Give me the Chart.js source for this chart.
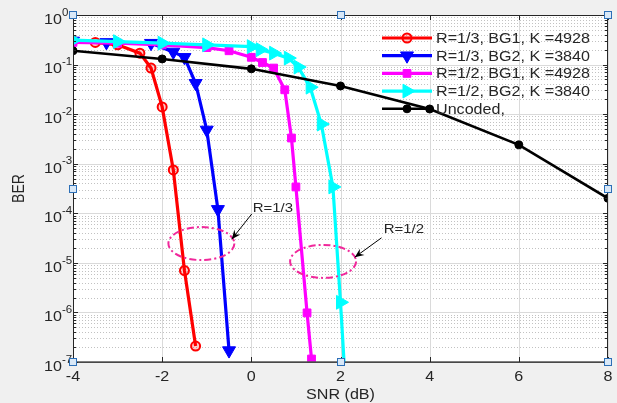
<!DOCTYPE html>
<html>
<head>
<meta charset="utf-8">
<script src="https://cdn.jsdelivr.net/npm/chart.js@4.4.0/dist/chart.umd.min.js"></script>
<style>
  html, body { margin: 0; padding: 0; background: #f0f0f0; }
  #wrap { width: 617px; height: 403px; }
</style>
</head>
<body>
<div id="wrap"><canvas id="berChart" width="617" height="403"></canvas></div>
<script>
// --- data ---
const snrR13BG1 = [-4, -3.5, -3, -2.5, -2.25, -2, -1.75, -1.5, -1.25];
const berR13BG1 = [0.30, 0.28, 0.25, 0.17, 0.085, 0.014, 7.5e-4, 7e-6, 2.1e-7];

const snrR13BG2 = [-4, -3.25, -2.25, -1.75, -1.5, -1.25, -1.0, -0.75, -0.5];
const berR13BG2 = [0.30, 0.28, 0.27, 0.18, 0.14, 0.042, 4.8e-3, 1.2e-4, 1.7e-7];

const snrR12BG1 = [-4, -3, -2, -1, -0.5, 0, 0.25, 0.5, 0.75, 0.9, 1.0, 1.25, 1.35];
const berR12BG1 = [0.28, 0.27, 0.25, 0.22, 0.19, 0.14, 0.11, 0.085, 0.031, 3.3e-3, 3.4e-4, 9.8e-7, 1.15e-7];

const snrR12BG2 = [-4, -3, -2, -1, 0, 0.2, 0.5, 0.83, 1.05, 1.32, 1.57, 1.83, 2.0, 2.1];
const berR12BG2 = [0.31, 0.29, 0.27, 0.25, 0.23, 0.20, 0.17, 0.135, 0.089, 0.035, 6.3e-3, 3.4e-4, 1.6e-6, 5e-8];

const snrUncoded = [-4, -2, 0, 2, 4, 6, 8];
const berUncoded = [0.19, 0.13, 0.082, 0.037, 0.0127, 2.4e-3, 2.0e-4];

const seriesNames = [
  'R=1/3, BG1, K =4928',
  'R=1/3, BG2, K =3840',
  'R=1/2, BG1, K =4928',
  'R=1/2, BG2, K =3840',
  'Uncoded,'
];
const xTicks = [-4, -2, 0, 2, 4, 6, 8];
const yTickExps = [0, -1, -2, -3, -4, -5, -6, -7];
const annotLabels = ['R=1/3', 'R=1/2'];

// --- styles ---
const textColor = '#262626';
const fontFam = '"Liberation Sans", Arial, sans-serif';
const stretch = 1.15; // the figure text is a bit wide

const seriesStyle = [
  { color: '#ff0000', pointStyle: 'circle', rotation: 0, radius: 4.5, fill: 'rgba(255,0,0,0.2)', width: 3.2 },
  { color: '#0000ff', pointStyle: 'triangle', rotation: 180, radius: 7.5, fill: '#0000ff', width: 3.2 },
  { color: '#ff00ff', pointStyle: 'rect', rotation: 0, radius: 5.5, fill: '#ff00ff', width: 3.2 },
  { color: '#00ffff', pointStyle: 'triangle', rotation: 90, radius: 8, fill: '#00ffff', width: 3.2 },
  { color: '#000000', pointStyle: 'circle', rotation: 0, radius: 4, fill: '#000000', width: 2.6 }
];

const seriesX = [snrR13BG1, snrR13BG2, snrR12BG1, snrR12BG2, snrUncoded];
const seriesY = [berR13BG1, berR13BG2, berR12BG1, berR12BG2, berUncoded];

const datasets = seriesNames.map(function(name, i) {
  const st = seriesStyle[i];
  return {
    label: name,
    data: seriesX[i].map(function(x, j) { return { x: x, y: seriesY[i][j] }; }),
    borderColor: st.color,
    backgroundColor: st.fill,
    borderWidth: st.width,
    pointStyle: st.pointStyle,
    rotation: st.rotation,
    pointRadius: st.radius,
    pointBorderColor: st.color,
    pointBackgroundColor: st.fill,
    pointBorderWidth: i === 0 ? 2 : 1,
    tension: 0,
    order: 5 - i
  };
});

function stretchedText(ctx, str, x, y, align, font) {
  ctx.save();
  ctx.translate(x, y);
  ctx.scale(stretch, 1);
  ctx.font = font;
  ctx.textAlign = align;
  ctx.textBaseline = 'middle';
  ctx.fillText(str, 0, 0);
  ctx.restore();
}

const berPlot = {
  id: 'berPlot',
  beforeDraw(chart) {
    const ctx = chart.ctx, a = chart.chartArea;
    const xs = chart.scales.x, ys = chart.scales.y;
    ctx.save();
    ctx.fillStyle = '#f0f0f0';
    ctx.fillRect(0, 0, chart.width, chart.height);
    ctx.fillStyle = '#ffffff';
    ctx.fillRect(a.left, a.top, a.right - a.left, a.bottom - a.top);

    // minor log grid (dotted)
    ctx.lineWidth = 1;
    ctx.strokeStyle = '#c2c2c2';
    ctx.setLineDash([1, 2]);
    yTickExps.forEach(function(e) {
      if (e === 0) return;
      for (let m = 2; m <= 9; m++) {
        const py = Math.round(ys.getPixelForValue(m * Math.pow(10, e))) + 0.5;
        ctx.beginPath(); ctx.moveTo(a.left, py); ctx.lineTo(a.right, py); ctx.stroke();
      }
    });
    // major grid
    ctx.setLineDash([]);
    ctx.strokeStyle = '#dadada';
    yTickExps.forEach(function(e) {
      const py = Math.round(ys.getPixelForValue(Math.pow(10, e))) + 0.5;
      ctx.beginPath(); ctx.moveTo(a.left, py); ctx.lineTo(a.right, py); ctx.stroke();
    });
    xTicks.forEach(function(v) {
      const px = Math.round(xs.getPixelForValue(v)) + 0.5;
      ctx.beginPath(); ctx.moveTo(px, a.top); ctx.lineTo(px, a.bottom); ctx.stroke();
    });
    ctx.restore();
  },
  afterDatasetsDraw(chart) {
    const ctx = chart.ctx, a = chart.chartArea;
    const xs = chart.scales.x, ys = chart.scales.y;
    const px = function(v) { return xs.getPixelForValue(v); };
    const py = function(v) { return ys.getPixelForValue(v); };
    ctx.save();

    // annotations: dashed ellipses, arrows, labels
    const ellipses = [{ x: -1.12, y: 2.45e-5 }, { x: 1.61, y: 1.07e-5 }];
    ctx.strokeStyle = '#f0289b';
    ctx.lineWidth = 2;
    ctx.setLineDash([7, 3, 2, 3]);
    ellipses.forEach(function(el) {
      ctx.beginPath();
      ctx.ellipse(px(el.x), py(el.y), 33, 16.5, 0, 0, Math.PI * 2);
      ctx.stroke();
    });
    ctx.setLineDash([]);

    const arrows = [
      { x1: 0.01, y1: 9.7e-5, x2: -0.44, y2: 3.0e-5 },
      { x1: 2.92, y1: 3.2e-5, x2: 2.32, y2: 1.3e-5 }
    ];
    ctx.strokeStyle = '#000';
    ctx.fillStyle = '#000';
    ctx.lineWidth = 1;
    arrows.forEach(function(ar) {
      const sx = px(ar.x1), sy = py(ar.y1), ex = px(ar.x2), ey = py(ar.y2);
      const ang = Math.atan2(ey - sy, ex - sx);
      ctx.beginPath(); ctx.moveTo(sx, sy); ctx.lineTo(ex, ey); ctx.stroke();
      ctx.beginPath();
      ctx.moveTo(ex, ey);
      ctx.lineTo(ex - 10 * Math.cos(ang - 0.4), ey - 10 * Math.sin(ang - 0.4));
      ctx.lineTo(ex - 6 * Math.cos(ang), ey - 6 * Math.sin(ang));
      ctx.lineTo(ex - 10 * Math.cos(ang + 0.4), ey - 10 * Math.sin(ang + 0.4));
      ctx.closePath();
      ctx.fill();
    });
    ctx.fillStyle = textColor;
    stretchedText(ctx, annotLabels[0], px(0.03), py(1.28e-4), 'left', '13px ' + fontFam);
    stretchedText(ctx, annotLabels[1], px(2.97), py(4.8e-5), 'left', '13px ' + fontFam);

    // axes box
    ctx.strokeStyle = textColor;
    ctx.lineWidth = 1;
    ctx.strokeRect(Math.round(a.left) + 0.5, Math.round(a.top) + 0.5,
      Math.round(a.right - a.left) - 1, Math.round(a.bottom - a.top));
    ctx.lineWidth = 1.5;
    ctx.strokeStyle = '#555';
    ctx.beginPath(); ctx.moveTo(a.left, a.bottom); ctx.lineTo(a.right, a.bottom); ctx.stroke();
    ctx.lineWidth = 1;
    ctx.strokeStyle = textColor;

    // inward tick marks
    xTicks.forEach(function(v) {
      const x = Math.round(px(v)) + 0.5;
      ctx.beginPath();
      ctx.moveTo(x, a.bottom); ctx.lineTo(x, a.bottom - 5);
      ctx.moveTo(x, a.top); ctx.lineTo(x, a.top + 5);
      ctx.stroke();
    });
    yTickExps.forEach(function(e) {
      const y = Math.round(py(Math.pow(10, e))) + 0.5;
      ctx.beginPath();
      ctx.moveTo(a.left, y); ctx.lineTo(a.left + 5, y);
      ctx.moveTo(a.right, y); ctx.lineTo(a.right - 5, y);
      ctx.stroke();
      if (e === 0) return;
      for (let m = 2; m <= 9; m++) {
        const ym = Math.round(py(m * Math.pow(10, e))) + 0.5;
        ctx.beginPath();
        ctx.moveTo(a.left, ym); ctx.lineTo(a.left + 3, ym);
        ctx.moveTo(a.right, ym); ctx.lineTo(a.right - 3, ym);
        ctx.stroke();
      }
    });

    // tick labels
    ctx.fillStyle = textColor;
    xTicks.forEach(function(v) {
      stretchedText(ctx, String(v), px(v), a.bottom + 15, 'center', '14px ' + fontFam);
    });
    yTickExps.forEach(function(e) {
      const y = py(Math.pow(10, e));
      stretchedText(ctx, '10', a.left - 11, y + 5, 'right', '14px ' + fontFam);
      stretchedText(ctx, e === 0 ? '0' : '-' + Math.abs(e), a.left - 11, y - 2, 'left', '10px ' + fontFam);
    });

    // axis titles
    stretchedText(ctx, 'SNR (dB)', (a.left + a.right) / 2, a.bottom + 33, 'center', '14px ' + fontFam);
    ctx.save();
    ctx.translate(20, (a.top + a.bottom) / 2);
    ctx.rotate(-Math.PI / 2);
    ctx.font = '14px ' + fontFam;
    ctx.textAlign = 'center';
    ctx.textBaseline = 'middle';
    ctx.scale(1, stretch);
    ctx.fillText('BER', 0, 0);
    ctx.restore();

    // legend
    const legX1 = a.left + 309, legX2 = a.left + 359, legText = a.left + 363;
    const legRow0 = a.top + 23, legStep = 17.7;
    seriesNames.forEach(function(name, i) {
      const st = seriesStyle[i];
      const y = legRow0 + i * legStep;
      ctx.strokeStyle = st.color;
      ctx.lineWidth = st.width;
      ctx.beginPath(); ctx.moveTo(legX1, y); ctx.lineTo(legX2, y); ctx.stroke();
      ctx.fillStyle = st.fill;
      ctx.lineWidth = i === 0 ? 2 : 1;
      Chart.helpers.drawPoint(ctx, {
        pointStyle: st.pointStyle, rotation: st.rotation, radius: st.radius, borderWidth: i === 0 ? 2 : 1
      }, (legX1 + legX2) / 2, y);
      ctx.fillStyle = textColor;
      stretchedText(ctx, name, legText, y + 1, 'left', '14px ' + fontFam);
    });

    // figure edit handles
    const handles = [
      [a.left, a.top], [(a.left + a.right) / 2, a.top], [a.right, a.top],
      [a.left, (a.top + a.bottom) / 2], [a.right, (a.top + a.bottom) / 2],
      [a.left, a.bottom], [(a.left + a.right) / 2, a.bottom], [a.right, a.bottom]
    ];
    ctx.lineWidth = 1;
    handles.forEach(function(h) {
      const hx = Math.round(h[0]) - 3.5, hy = Math.round(h[1]) - 3.5;
      ctx.fillStyle = '#d9e8f7';
      ctx.fillRect(hx, hy, 7, 7);
      ctx.strokeStyle = '#2c6fb7';
      ctx.strokeRect(hx, hy, 7, 7);
    });
    ctx.restore();
  }
};

new Chart(document.getElementById('berChart'), {
  type: 'line',
  data: { datasets: datasets },
  options: {
    responsive: false,
    animation: false,
    events: [],
    layout: { padding: { top: 15, right: 5, left: 0, bottom: 0 } },
    plugins: { legend: { display: false }, tooltip: { enabled: false } },
    scales: {
      x: {
        type: 'linear', min: -4, max: 8,
        ticks: { display: false },
        grid: { display: false },
        border: { display: false },
        afterFit: function(s) { s.height = 41; }
      },
      y: {
        type: 'logarithmic', min: 1e-7, max: 1,
        ticks: { display: false },
        grid: { display: false },
        border: { display: false },
        afterFit: function(s) { s.width = 73; }
      }
    }
  },
  plugins: [berPlot]
});
</script>
</body>
</html>
